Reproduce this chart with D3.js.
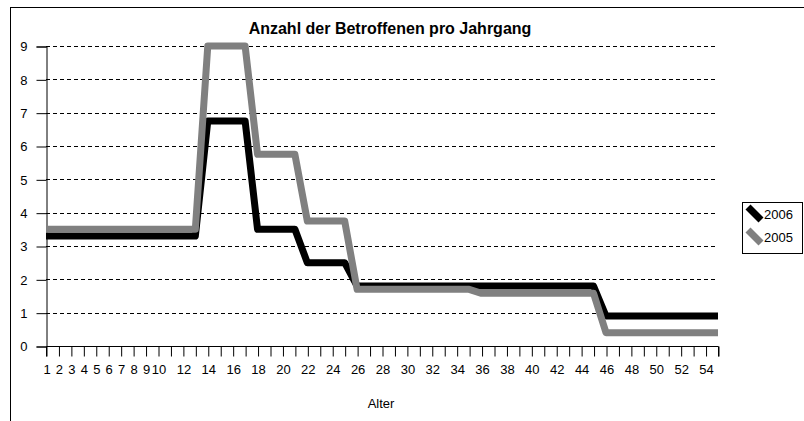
<!DOCTYPE html>
<html lang="de">
<head>
<meta charset="utf-8">
<title>Anzahl der Betroffenen pro Jahrgang</title>
<script src="https://d3js.org/d3.v7.min.js"></script>
<style>
  body { margin: 0; background: #fff; }
  svg { font-family: "Liberation Sans", Arial, sans-serif; }
  .grid line { stroke: #000; stroke-dasharray: 4,3; stroke-width: 1; }
  .line { fill: none; stroke-width: 7; stroke-linejoin: round; }
</style>
</head>
<body>
<svg width="804" height="421"></svg>
<script>
// Alter 1..55
var ages = d3.range(1, 56);
var labelAges = [1,2,3,4,5,6,7,8,9,10,12,14,16,18,20,22,24,26,28,30,32,34,36,38,40,42,44,46,48,50,52,54];
var yTicks = [0,1,2,3,4,5,6,7,8,9];

var v2006 = [3.3,3.3,3.3,3.3,3.3,3.3,3.3,3.3,3.3,3.3,3.3,3.3,3.3,
             6.75,6.75,6.75,6.75,
             3.5,3.5,3.5,3.5,
             2.5,2.5,2.5,2.5,
             1.8,1.8,1.8,1.8,1.8,1.8,1.8,1.8,1.8,1.8,
             1.8,1.8,1.8,1.8,1.8,1.8,1.8,1.8,1.8,1.8,
             0.9,0.9,0.9,0.9,0.9,0.9,0.9,0.9,0.9,0.9];
var v2005 = [3.5,3.5,3.5,3.5,3.5,3.5,3.5,3.5,3.5,3.5,3.5,3.5,3.5,
             9,9,9,9,
             5.75,5.75,5.75,5.75,
             3.75,3.75,3.75,3.75,
             1.7,1.7,1.7,1.7,1.7,1.7,1.7,1.7,1.7,1.7,
             1.58,1.58,1.58,1.58,1.58,1.58,1.58,1.58,1.58,1.58,
             0.4,0.4,0.4,0.4,0.4,0.4,0.4,0.4,0.4,0.4];

var series = [
  {name: "2006", color: "#000000", values: v2006},
  {name: "2005", color: "#808080", values: v2005}
];

var svg = d3.select("svg");

// outer chart border (cropped by the picture edge)
svg.append("rect")
  .attr("x", 10.5).attr("y", 7.5)
  .attr("width", 900).attr("height", 500)
  .attr("fill", "none").attr("stroke", "#000");

var x = d3.scalePoint().domain(ages).range([46, 718]);
var y = d3.scaleLinear().domain([0, 9]).range([346, 46]);

// gridlines
svg.append("g").attr("class", "grid")
  .selectAll("line")
  .data(yTicks.filter(function(d) { return d > 0; }))
  .enter().append("line")
    .attr("x1", 46).attr("x2", 718)
    .attr("y1", function(d) { return Math.round(y(d)) + 0.5; })
    .attr("y2", function(d) { return Math.round(y(d)) + 0.5; });

// y axis
var yAxis = svg.append("g")
  .attr("transform", "translate(46.5,0.5)")
  .call(d3.axisLeft(y).tickValues(yTicks).tickSize(10).tickPadding(9).tickFormat(d3.format("d")));
yAxis.selectAll("text").style("font-size", "13px").attr("fill", "#000");
yAxis.selectAll("line, path").attr("stroke", "#000");

// x axis
var xAxis = svg.append("g")
  .attr("transform", "translate(0.5,346.5)")
  .call(d3.axisBottom(x).tickSize(10).tickPadding(8)
        .tickFormat(function(d) { return labelAges.indexOf(d) >= 0 ? d : ""; }));
xAxis.selectAll("text").style("font-size", "13px").attr("fill", "#000");
xAxis.selectAll("line, path").attr("stroke", "#000");
xAxis.select(".domain").attr("d", "M46,10V0H718V10");

svg.append("text")
  .attr("x", 381).attr("y", 408)
  .attr("text-anchor", "middle")
  .style("font-size", "13px")
  .text("Alter");

// lines
var line = d3.line()
  .x(function(d, i) { return x(ages[i]); })
  .y(function(d) { return y(d); });

svg.selectAll(".line")
  .data(series)
  .enter().append("path")
    .attr("class", "line")
    .attr("stroke", function(d) { return d.color; })
    .attr("d", function(d) { return line(d.values); });

// title
svg.append("text")
  .attr("x", 390).attr("y", 34)
  .attr("text-anchor", "middle")
  .style("font-size", "16px")
  .style("font-weight", "bold")
  .text("Anzahl der Betroffenen pro Jahrgang");

// legend
var legend = svg.append("g");
legend.append("rect")
  .attr("x", 742.5).attr("y", 202.5)
  .attr("width", 60).attr("height", 51)
  .attr("fill", "#fff").attr("stroke", "#000");

var item = legend.selectAll(".item")
  .data(series)
  .enter().append("g")
    .attr("class", "item")
    .attr("transform", function(d, i) { return "translate(0," + (i * 23) + ")"; });

item.append("line")
  .attr("x1", 748).attr("y1", 207)
  .attr("x2", 761).attr("y2", 220)
  .attr("stroke", function(d) { return d.color; })
  .attr("stroke-width", 7);

item.append("text")
  .attr("x", 764).attr("y", 219)
  .style("font-size", "13px")
  .text(function(d) { return d.name; });
</script>
</body>
</html>
